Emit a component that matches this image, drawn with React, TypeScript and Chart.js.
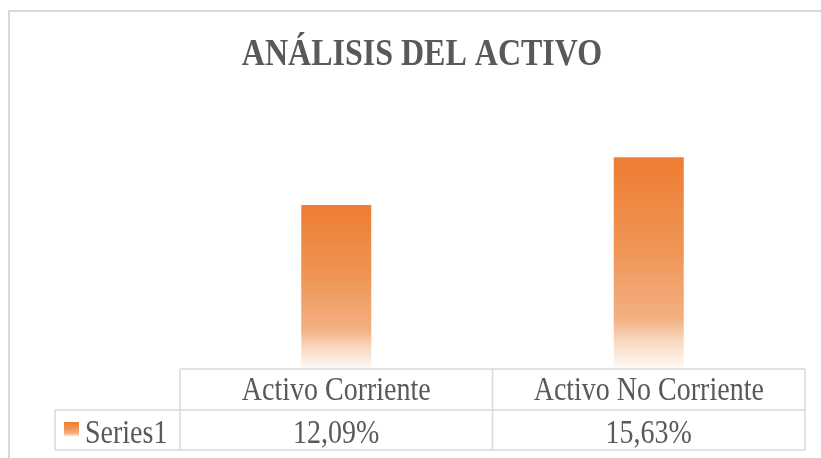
import React, { useEffect, useRef } from "react";
import { Chart, registerables } from "chart.js";

Chart.register(...registerables);

const TITLE = "ANÁLISIS DEL ACTIVO";
const categories = ["Activo Corriente", "Activo No Corriente"];
const seriesName = "Series1";
const values = [12.09, 15.63];
const valueLabels = ["12,09%", "15,63%"];

const TEXT = "#595959";
const LINE = "#D9D9D9";
const SERIF = "'Liberation Serif', serif";
const STRETCH = 1.2;

function makeGradient(ctx: CanvasRenderingContext2D, top: number, bottom: number) {
  const g = ctx.createLinearGradient(0, top, 0, bottom);
  g.addColorStop(0, "#ED7D31");
  g.addColorStop(0.45, "#EF9657");
  g.addColorStop(0.76, "#F3B082");
  g.addColorStop(0.86, "#F8D5BB");
  g.addColorStop(1, "#FFFBF8");
  return g;
}

function text(ctx: CanvasRenderingContext2D, s: string, x: number, baseline: number, align: CanvasTextAlign) {
  ctx.save();
  ctx.translate(x, baseline);
  ctx.scale(1, STRETCH);
  ctx.textAlign = align;
  ctx.textBaseline = "alphabetic";
  ctx.fillText(s, 0, 0);
  ctx.restore();
}

const frameAndTable = {
  id: "frameAndTable",
  afterDraw(chart: any) {
    const ctx: CanvasRenderingContext2D = chart.ctx;
    const x = chart.scales.x;
    const area = chart.chartArea;
    ctx.save();
    ctx.strokeStyle = LINE;
    ctx.lineWidth = 2;
    ctx.strokeRect(9, 11, 1000, 1000);

    // title
    ctx.fillStyle = TEXT;
    ctx.font = `bold 32px ${SERIF}`;
    text(ctx, TITLE, 422, 65, "center");

    const n = categories.length;
    const half = (x.getPixelForValue(1) - x.getPixelForValue(0)) / 2;
    const left = x.getPixelForValue(0) - half;
    const right = x.getPixelForValue(n - 1) + half;
    const y0 = area.bottom;
    const y1 = y0 + 41;
    const y2 = y1 + 40;
    const legLeft = 55;

    ctx.lineWidth = 1.5;
    ctx.beginPath();
    ctx.moveTo(left, y0); ctx.lineTo(right, y0);
    ctx.moveTo(legLeft, y1); ctx.lineTo(right, y1);
    ctx.moveTo(legLeft, y2); ctx.lineTo(right, y2);
    ctx.moveTo(legLeft, y1); ctx.lineTo(legLeft, y2);
    for (let i = 0; i <= n; i++) {
      const px = left + i * 2 * half;
      ctx.moveTo(px, y0); ctx.lineTo(px, y2);
    }
    ctx.stroke();

    ctx.fillStyle = TEXT;
    ctx.font = `28px ${SERIF}`;
    categories.forEach((c, i) => {
      const cx = x.getPixelForValue(i);
      text(ctx, c, cx, y0 + 31, "center");
      text(ctx, valueLabels[i], cx, y1 + 33, "center");
    });
    ctx.fillStyle = makeGradient(ctx, y1 + 12, y1 + 27);
    ctx.fillRect(64, y1 + 12, 15, 15);
    ctx.fillStyle = TEXT;
    text(ctx, seriesName, 85, y1 + 33, "left");
    ctx.restore();
  },
};

export default function App() {
  const ref = useRef<HTMLCanvasElement | null>(null);
  useEffect(() => {
    if (!ref.current) return;
    const chart = new Chart(ref.current, {
      type: "bar",
      data: {
        labels: categories,
        datasets: [
          {
            label: seriesName,
            data: values,
            categoryPercentage: 1,
            barPercentage: 0.224,
            borderWidth: 0,
            backgroundColor: (c: any) => {
              const ch = c.chart;
              if (!ch.chartArea || c.raw === undefined) return "#ED7D31";
              const top = ch.scales.y.getPixelForValue(c.raw);
              return makeGradient(ch.ctx, top, ch.chartArea.bottom);
            },
          },
        ],
      },
      options: {
        animation: false,
        responsive: false,
        maintainAspectRatio: false,
        layout: { padding: { top: 125, left: 180, right: 16, bottom: 89 } },
        scales: {
          x: { display: false },
          y: { display: false, min: 0, max: 18 },
        },
        plugins: {
          legend: { display: false },
          tooltip: { enabled: false },
          title: { display: false },
        },
      },
      plugins: [frameAndTable],
    });
    return () => chart.destroy();
  }, []);
  return (
    <div style={{ position: "fixed", left: 0, top: 0, width: 821, height: 458, background: "#fff" }}>
      <canvas ref={ref} width={821} height={458} style={{ display: "block" }} />
    </div>
  );
}
